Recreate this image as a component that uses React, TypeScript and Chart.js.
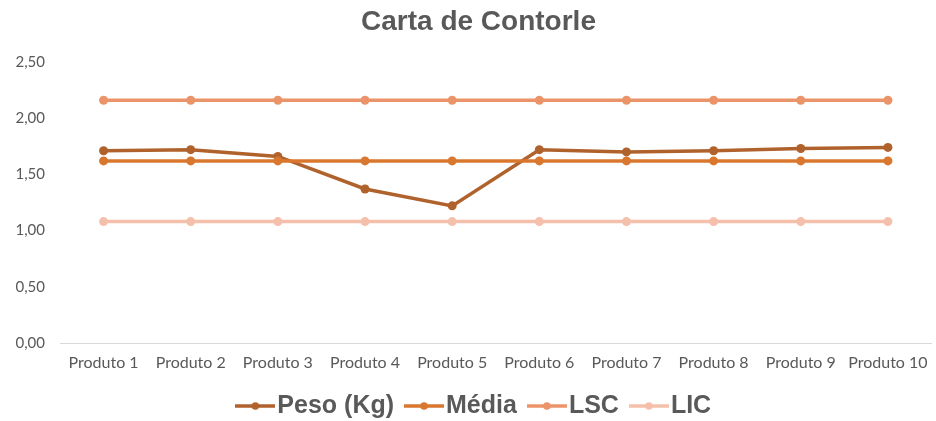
import React, { useEffect, useRef } from "react";
import { Chart, registerables } from "chart.js";

Chart.register(...registerables);

const categories = [
  "Produto 1", "Produto 2", "Produto 3", "Produto 4", "Produto 5",
  "Produto 6", "Produto 7", "Produto 8", "Produto 9", "Produto 10",
];
const peso = [1.71, 1.72, 1.66, 1.37, 1.22, 1.72, 1.70, 1.71, 1.73, 1.74];
const media = [1.62, 1.62, 1.62, 1.62, 1.62, 1.62, 1.62, 1.62, 1.62, 1.62];
const lsc = [2.16, 2.16, 2.16, 2.16, 2.16, 2.16, 2.16, 2.16, 2.16, 2.16];
const lic = [1.08, 1.08, 1.08, 1.08, 1.08, 1.08, 1.08, 1.08, 1.08, 1.08];

const seriesNames = ["Peso (Kg)", "Média", "LSC", "LIC"];
const seriesColors = ["#B0622C", "#D9772F", "#EC9469", "#F5C0AB"];

const yTicks = [0, 0.5, 1, 1.5, 2, 2.5];

// Legend marker: short line with a dot in the middle
function lineDotMarker(color: string): HTMLCanvasElement {
  const c = document.createElement("canvas");
  c.width = 40;
  c.height = 12;
  const ctx = c.getContext("2d")!;
  ctx.strokeStyle = color;
  ctx.lineWidth = 3.5;
  ctx.beginPath();
  ctx.moveTo(0, 6);
  ctx.lineTo(40, 6);
  ctx.stroke();
  ctx.fillStyle = color;
  ctx.beginPath();
  ctx.arc(20, 6, 3.8, 0, Math.PI * 2);
  ctx.fill();
  return c;
}

export default function App() {
  const canvasRef = useRef<HTMLCanvasElement | null>(null);

  useEffect(() => {
    document.body.style.margin = "0";
    const canvas = canvasRef.current;
    if (!canvas) return;
    const values = [peso, media, lsc, lic];
    const markers = seriesColors.map(lineDotMarker);

    const chart = new Chart(canvas, {
      type: "line",
      data: {
        labels: categories,
        datasets: values.map((data, i) => ({
          label: seriesNames[i],
          data,
          borderColor: seriesColors[i],
          backgroundColor: seriesColors[i],
          borderWidth: 3.5,
          pointRadius: 4.5,
          pointHoverRadius: 4.5,
          pointBorderWidth: 0,
          tension: 0,
          order: 4 - i,
        })),
      },
      options: {
        animation: false,
        responsive: true,
        maintainAspectRatio: false,
        layout: { padding: { left: 15, right: -6, top: 0, bottom: -7.5 } },
        plugins: {
          title: {
            display: true,
            text: "Carta de Contorle",
            color: "#595959",
            font: { family: "'Liberation Sans', Arial, sans-serif", size: 28, weight: "bold" },
            padding: { top: 5, bottom: 23.4 },
          },
          legend: {
            position: "bottom",
            labels: {
              color: "#595959",
              font: { family: "'Liberation Sans', Arial, sans-serif", size: 25, weight: "bold" },
              usePointStyle: true,
              pointStyleWidth: 19,
              padding: 20.5,
              generateLabels: (ch) =>
                ch.data.datasets.map((ds, i) => ({
                  text: ds.label as string,
                  pointStyle: markers[i],
                  fillStyle: seriesColors[i],
                  strokeStyle: seriesColors[i],
                  fontColor: "#595959",
                  lineWidth: 0,
                  hidden: false,
                  datasetIndex: i,
                })),
            },
          },
          tooltip: { enabled: false },
        },
        scales: {
          x: {
            offset: true,
            grid: { display: false, drawTicks: false },
            border: { display: true, color: "#D9D9D9", width: 1 },
            afterFit: (axis) => {
              axis.height = 30;
            },
            ticks: {
              color: "#595959",
              font: { family: "Lato, 'Open Sans', sans-serif", size: 16, lineHeight: "40px" },
              padding: 0,
              maxRotation: 0,
              autoSkip: false,
            },
          },
          y: {
            min: yTicks[0],
            max: yTicks[yTicks.length - 1],
            grid: { display: false, drawTicks: false },
            border: { display: false },
            afterBuildTicks: (axis) => {
              axis.ticks = yTicks.map((value) => ({ value }));
            },
            afterFit: (axis) => {
              axis.width = 45;
            },
            ticks: {
              color: "#595959",
              font: { family: "Lato, 'Open Sans', sans-serif", size: 15 },
              padding: 15,
              callback: (v) => Number(v).toFixed(2).replace(".", ","),
            },
          },
        },
      },
    });
    return () => chart.destroy();
  }, []);

  return (
    <div style={{ width: 936, height: 421, position: "relative", background: "#fff" }}>
      <canvas ref={canvasRef} />
    </div>
  );
}
